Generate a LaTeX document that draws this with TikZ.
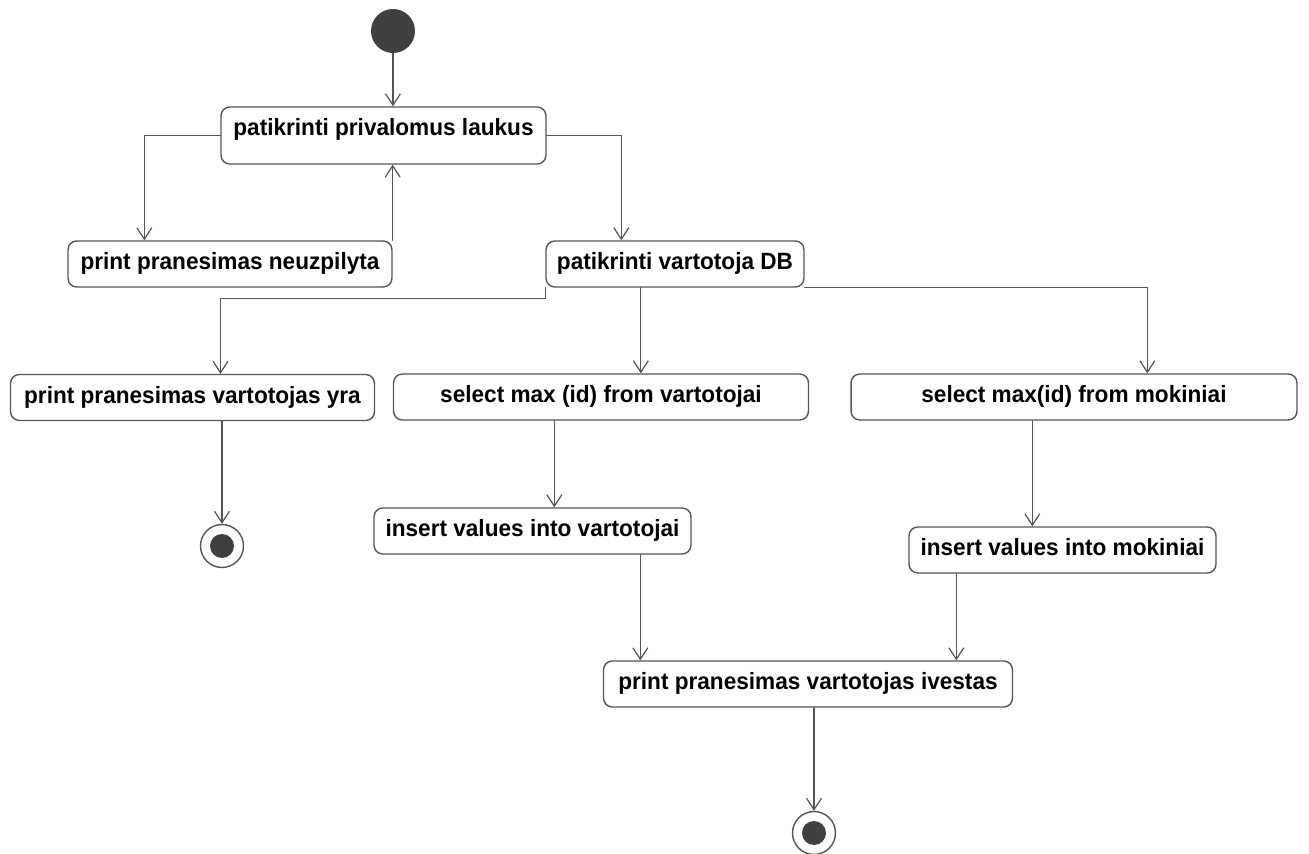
\documentclass[tikz,border=0pt]{standalone}
\usepackage{fontspec}
\setmainfont{Liberation Sans}
\newfontfamily\umlfont[FakeStretch=0.96]{Liberation Sans}
\usetikzlibrary{arrows.meta,calc}
\definecolor{linegray}{HTML}{555555}
\definecolor{dotgray}{HTML}{404040}

\begin{document}
\begin{tikzpicture}[>={Straight Barb[length=6.5pt,width=8.5pt]}, line cap=round, line join=round, x=0.02cm, y=-0.02cm,
	act/.style={draw=linegray, line width=0.8pt, rounded corners=5pt, fill=white, minimum height=0.92cm, inner sep=0pt, text height=9.8pt, text depth=3pt, font=\umlfont\bfseries\fontsize{13.4}{15}\selectfont},
	flow/.style={->, draw=linegray, line width=0.7pt},
	startdot/.style={circle, fill=dotgray, minimum size=0.88cm, inner sep=0pt},
	enddot/.style={circle, draw=linegray, line width=0.8pt, fill=white, minimum size=0.86cm, inner sep=0pt,
		path picture={\fill[dotgray] (path picture bounding box.center) circle (0.24cm);}}]
	
	\useasboundingbox (0,0) rectangle (1309,854);
	
	% Các nút hoạt động
	\node[startdot] (start) at (393,31) {};
	\node[act, minimum width=6.5cm, minimum height=1.14cm, text depth=9.8pt] (chk) at (383.5,135.5) {patikrinti privalomus laukus};
	\node[act, minimum width=6.48cm] (neu) at (230,264) {print pranesimas neuzpilyta};
	\node[act, minimum width=5.16cm] (db) at (675,264) {patikrinti vartotoja DB};
	\node[act, minimum width=7.28cm] (yra) at (192.5,397.5) {print pranesimas vartotojas yra};
	\node[act, minimum width=8.3cm] (selv) at (601,397) {select max (id) from vartotojai};
	\node[act, minimum width=8.92cm] (selm) at (1074,397) {select max(id) from mokiniai};
	\node[act, minimum width=6.34cm] (insv) at (532.5,531) {insert values into vartotojai};
	\node[act, minimum width=6.14cm] (insm) at (1062.5,550) {insert values into mokiniai};
	\node[act, minimum width=8.18cm] (ive) at (808,684) {print pranesimas vartotojas ivestas};
	
	% Các điểm kết thúc
	\node[enddot] (end1) at (222,546) {};
	\node[enddot] (end2) at (814,833) {};
	
	% Các mũi tên phía trên
	\draw[flow] (start) -- (start |- chk.north);
	\draw[flow] (chk.west) -| ($(neu.north west)+(77,0)$);
	\draw[flow] (neu.north east) -- (neu.north east |- chk.south);
	\draw[flow] (chk.east) -| ($(db.north west)+(76,0)$);
	
	% Các nhánh từ DB
	\draw[flow] (db.south west) -- ++(0,11) -| ($(yra.north)+(28,0)$);
	\coordinate (tselv) at ($(selv.north west)+(248,0)$);
	\draw[flow] (tselv |- db.south) -- (tselv);
	\draw[flow] (db.south east) -| ($(selm.north west)+(297,0)$);
	
	% Các mũi tên phía dưới
	\draw[flow] (end1 |- yra.south) -- (end1.north);
	\coordinate (tinsv) at ($(insv.north west)+(181,0)$);
	\draw[flow] (tinsv |- selv.south) -- (tinsv);
	\coordinate (tinsm) at ($(insm.north west)+(124,0)$);
	\draw[flow] (tinsm |- selm.south) -- (tinsm);
	\coordinate (tive1) at ($(ive.north west)+(37.5,0)$);
	\draw[flow] (tive1 |- insv.south) -- (tive1);
	\coordinate (tive2) at ($(ive.north west)+(353.5,0)$);
	\draw[flow] (tive2 |- insm.south) -- (tive2);
	\draw[flow] (end2 |- ive.south) -- (end2.north);
	
\end{tikzpicture}
\end{document}
